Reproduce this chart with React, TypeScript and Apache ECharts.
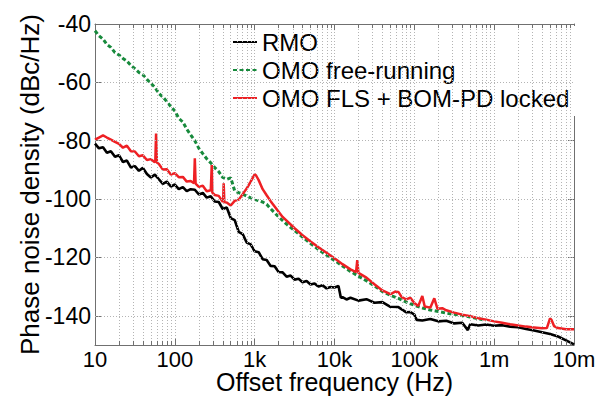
import React, { useEffect, useRef } from "react";
import * as echarts from "echarts";

// ---- data ----
const rmoFreq = [10, 11.2, 12.6, 14.1, 15.8, 17.8, 20, 22.4, 25.1, 28.2, 31.6, 35.5, 39.8, 44.7, 50.1, 56.2, 63.1, 70.8, 79.4, 89.1, 100, 112, 126, 141, 158, 178, 200, 224, 251, 282, 316, 355, 398, 447, 501, 562, 631, 708, 794, 891, 1000, 1122, 1259, 1413, 1585, 1778, 1995, 2239, 2512, 2818, 3162, 3548, 3981, 4467, 5012, 5623, 6310, 7079, 7943, 8913, 10000, 11220, 12020, 12590, 14130, 15850, 19950, 25120, 31620, 39810, 50120, 63100, 79430, 89130, 100000, 107000, 125900, 158500, 199500, 251200, 316200, 398100, 467700, 501200, 631000, 794300, 1000000, 1259000, 1585000, 1995000, 2512000, 3162000, 3981000, 5012000, 6310000, 7943000, 10000000];
const rmoVal = [-81.0, -82.6, -82.2, -84.1, -83.6, -85.5, -85.0, -87.3, -86.8, -89.2, -88.7, -90.3, -89.3, -91.4, -92.6, -91.6, -93.2, -94.8, -94.0, -95.7, -95.0, -96.6, -95.9, -97.3, -96.6, -96.8, -98.4, -97.9, -99.5, -99.0, -100.8, -101.0, -103.4, -102.9, -106.5, -107.2, -111.2, -112.0, -114.9, -115.5, -117.9, -118.2, -120.6, -120.9, -122.9, -123.0, -125.0, -125.1, -126.6, -126.2, -127.6, -127.3, -128.5, -128.1, -129.3, -128.9, -130.0, -129.5, -130.6, -130.1, -130.3, -129.8, -133.8, -133.6, -134.4, -133.8, -134.8, -134.3, -135.5, -135.3, -136.9, -137.0, -138.8, -138.7, -139.6, -141.4, -141.6, -141.1, -141.9, -141.7, -142.6, -142.4, -144.9, -142.9, -143.3, -143.0, -143.4, -143.2, -143.7, -143.9, -144.5, -145.0, -145.6, -146.2, -147.1, -148.4, -149.8];

const freeFreq = [10, 11.2, 12.6, 14.1, 15.8, 17.8, 20, 22.4, 25.1, 28.2, 31.6, 35.5, 39.8, 44.7, 50.1, 56.2, 63.1, 70.8, 79.4, 89.1, 100, 112, 126, 141, 158, 178, 200, 224, 251, 282, 316, 355, 398, 447, 501, 525, 562, 631, 708, 794, 891, 1000, 1259, 1413, 1585, 1995, 2512, 3162, 3981, 5012, 6310, 7943, 10000, 12590, 15850, 19950, 25120, 31620, 39810, 50120, 63100, 79430, 100000, 125900, 158500, 199500, 251200, 316200, 398100, 501200, 631000, 794300];
const freeVal = [-42.3, -44.0, -45.2, -47.0, -48.0, -49.8, -50.6, -51.8, -52.7, -54.2, -55.3, -56.6, -57.4, -59.0, -60.3, -61.7, -63.8, -65.0, -66.6, -68.3, -69.8, -72.3, -73.6, -76.0, -78.0, -80.0, -82.6, -84.4, -86.2, -87.6, -89.2, -90.6, -92.6, -93.2, -92.7, -94.5, -97.2, -97.8, -98.3, -99.0, -99.6, -100.1, -101.0, -101.8, -103.3, -106.1, -108.6, -110.8, -113.0, -115.2, -117.3, -119.2, -121.0, -122.9, -124.8, -126.4, -128.0, -129.7, -131.7, -133.0, -134.0, -135.3, -136.4, -137.3, -138.0, -138.5, -139.1, -139.5, -139.9, -140.4, -141.0, -141.5];

const lockedFreq = [10, 11.2, 12.6, 14.1, 15.8, 17.8, 20, 22.4, 25.1, 28.2, 31.6, 35.5, 39.8, 44.7, 50.1, 55, 56.9, 58.2, 59.6, 63.1, 70.8, 79.4, 89.1, 100, 112, 126, 141, 158, 174, 178, 182, 200, 224, 251, 282, 285, 290, 295, 316, 355, 398, 403, 409, 417, 447, 501, 562, 631, 708, 794, 891, 1000, 1047, 1122, 1259, 1413, 1585, 1778, 1995, 2239, 2512, 3162, 3981, 5012, 6310, 7943, 10000, 12590, 15850, 18620, 19280, 19950, 25120, 31620, 39810, 50120, 57540, 63100, 69180, 79430, 89130, 100000, 112200, 125900, 134900, 158500, 177800, 195000, 223900, 251200, 316200, 398100, 501200, 631000, 794300, 1000000, 1259000, 1585000, 1995000, 2512000, 3162000, 3981000, 4571000, 5012000, 5248000, 5623000, 6310000, 7943000, 10000000];
const lockedVal = [-79.6, -78.9, -78.2, -78.9, -79.6, -80.4, -81.1, -82.4, -81.7, -83.6, -83.7, -85.3, -85.0, -86.6, -86.3, -87.2, -87.3, -77.5, -87.5, -88.0, -89.9, -89.8, -91.6, -91.1, -92.5, -92.4, -94.0, -93.8, -94.6, -86.0, -94.7, -95.8, -95.4, -97.3, -97.0, -97.2, -88.3, -97.8, -98.6, -98.9, -100.9, -100.6, -94.6, -101.0, -101.2, -102.2, -100.6, -100.2, -98.3, -96.4, -94.0, -91.5, -92.0, -93.5, -96.6, -98.7, -100.7, -102.5, -104.3, -106.1, -107.4, -110.0, -112.4, -114.5, -116.5, -118.4, -120.3, -122.3, -124.1, -125.0, -120.9, -125.3, -126.9, -129.2, -131.3, -132.6, -131.7, -131.8, -133.5, -134.4, -133.8, -135.6, -136.6, -133.2, -136.8, -137.2, -134.0, -137.6, -137.4, -138.1, -138.9, -139.6, -140.1, -140.8, -141.3, -141.9, -142.4, -142.9, -143.3, -143.7, -144.0, -144.3, -144.2, -140.9, -141.5, -143.5, -144.2, -144.6, -144.6];

const seriesNames = ["RMO", "OMO free-running", "OMO FLS + BOM-PD locked"];
const xTickValues = [10, 100, 1e3, 1e4, 1e5, 1e6, 1e7];
const xTickLabels = ["10", "100", "1k", "10k", "100k", "1m", "10m"];
const yTickValues = [-40, -60, -80, -100, -120, -140];
const minorMultipliers = [2, 3, 4, 5, 6, 7, 8, 9];

const FONT = "'Liberation Sans', Arial, Helvetica, sans-serif";
const AXIS_COLOR = "#707070";

export default function App() {
  const ref = useRef<HTMLDivElement>(null);
  useEffect(() => {
    if (!ref.current) return;
    const chart = echarts.init(ref.current, undefined, { renderer: "svg" });

    const gridX: number[] = [];
    for (let d = 0; d < 6; d++) {
      const base = xTickValues[d];
      if (d > 0) gridX.push(base);
      minorMultipliers.forEach((m) => gridX.push(base * m));
    }
    const gridLines: any[] = [
      ...gridX.map((v) => ({ xAxis: v })),
      ...yTickValues.slice(1).map((v) => ({ yAxis: v })),
    ];
    const minorTicks: any[] = [];
    gridX.forEach((v) => {
      const isMajor = xTickValues.indexOf(v) >= 0;
      const len = isMajor ? 2.1 : 1.4;
      minorTicks.push([
        { coord: [v, -150], lineStyle: { type: "solid", color: AXIS_COLOR } },
        { coord: [v, -150 + len] },
      ]);
      minorTicks.push([
        { coord: [v, -40], lineStyle: { type: "solid", color: AXIS_COLOR } },
        { coord: [v, -40 - len] },
      ]);
    });

    const fmtX = (v: number) => {
      for (let i = 0; i < xTickValues.length; i++) {
        if (Math.abs(Math.log10(v) - Math.log10(xTickValues[i])) < 1e-6) return xTickLabels[i];
      }
      return "";
    };

    const commonX = {
      type: "log" as const,
      logBase: 10,
      min: 10,
      max: 1e7,
      axisLine: { show: true, onZero: false, lineStyle: { color: AXIS_COLOR, width: 1 } },
      axisTick: { show: false },
      splitLine: { show: false },
      minorSplitLine: { show: false },
    };
    const commonY = {
      type: "value" as const,
      min: -150,
      max: -40,
      axisLine: { show: true, onZero: false, lineStyle: { color: AXIS_COLOR, width: 1 } },
      axisTick: { show: true, inside: true, length: 6, customValues: yTickValues, lineStyle: { color: AXIS_COLOR } },
      splitLine: { show: false },
    };

    chart.setOption({
      animation: false,
      backgroundColor: "#ffffff",
      textStyle: { fontFamily: FONT },
      grid: { left: 95, right: 34, top: 24, bottom: 51, containLabel: false, outerBoundsMode: "none" },
      legend: {
        data: seriesNames,
        orient: "vertical",
        left: 228,
        top: 26,
        padding: [2, 8, 4, 4],
        itemGap: 0,
        itemWidth: 24,
        itemHeight: 14,
        backgroundColor: "#ffffff",
        borderWidth: 0,
        selectedMode: false,
        itemStyle: { opacity: 0 },
        textStyle: { fontFamily: FONT, fontSize: 24, color: "#000", lineHeight: 28 },
      },
      xAxis: [
        {
          ...commonX,
          position: "bottom",
          name: "Offset frequency (Hz)",
          nameLocation: "middle",
          nameGap: 28,
          nameMoveOverlap: false,
          nameTextStyle: { fontFamily: FONT, fontSize: 25, color: "#000", verticalAlign: "top", lineHeight: 18 },
          axisLabel: { show: true, formatter: fmtX, fontFamily: FONT, fontSize: 22, color: "#000", margin: 6, lineHeight: 16, customValues: xTickValues },
        },
        {
          ...commonX,
          position: "top",
          axisLabel: { show: false },
        },
      ],
      yAxis: [
        {
          ...commonY,
          position: "left",
          name: "Phase noise density (dBc/Hz)",
          nameLocation: "middle",
          nameGap: 52,
          nameMoveOverlap: false,
          nameTextStyle: { fontFamily: FONT, fontSize: 26, color: "#000" },
          axisLabel: { show: true, fontFamily: FONT, fontSize: 23, color: "#000", margin: 4, customValues: yTickValues },
        },
        {
          ...commonY,
          position: "right",
          axisLabel: { show: false },
        },
      ],
      series: [
        {
          type: "line",
          xAxisIndex: 0,
          yAxisIndex: 0,
          data: [[1e7, -40]],
          symbol: "none",
          silent: true,
          lineStyle: { opacity: 0 },
          z: 1,
          markLine: {
            silent: true,
            symbol: ["none", "none"],
            label: { show: false },
            animation: false,
            lineStyle: { color: "#b4b4b4", type: [1, 2], width: 1 },
            data: [...gridLines, ...minorTicks],
          },
        },
        {
          name: seriesNames[0],
          type: "line",
          data: rmoFreq.map((f, i) => [f, rmoVal[i]]),
          symbol: "none",
          lineStyle: { color: "#000000", width: 2.6 },
          itemStyle: { color: "#000000" },
          z: 3,
        },
        {
          name: seriesNames[1],
          type: "line",
          data: freeFreq.map((f, i) => [f, freeVal[i]]),
          symbol: "none",
          lineStyle: { color: "#178a3c", width: 3, type: [4, 2.5] },
          itemStyle: { color: "#178a3c" },
          z: 3,
        },
        {
          name: seriesNames[2],
          type: "line",
          data: lockedFreq.map((f, i) => [f, lockedVal[i]]),
          symbol: "none",
          lineStyle: { color: "#ee2024", width: 2.5 },
          itemStyle: { color: "#ee2024" },
          z: 3,
        },
      ],
    });
    return () => chart.dispose();
  }, []);
  return (
    <div
      ref={ref}
      style={{ position: "fixed", left: 0, top: 0, width: 608, height: 396, background: "#fff" }}
    />
  );
}
